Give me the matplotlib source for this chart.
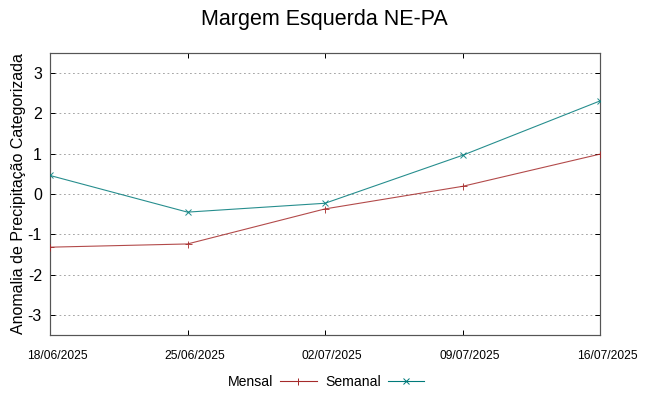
import matplotlib
matplotlib.use("Agg")
import matplotlib.pyplot as plt
import matplotlib.transforms as mtransforms
from matplotlib.lines import Line2D

plt.rcParams['font.family'] = ['Liberation Sans', 'DejaVu Sans']

dates = ["18/06/2025", "25/06/2025", "02/07/2025", "09/07/2025", "16/07/2025"]
mensal = [-1.32, -1.24, -0.37, 0.19, 0.99]
semanal = [0.46, -0.45, -0.23, 0.96, 2.31]
yticks = [-3, -2, -1, 0, 1, 2, 3]

fig = plt.figure(figsize=(9, 5.5), dpi=72)
ax = fig.add_axes([50/648, 1-335/396, 550/648, 282/396])

x = list(range(len(dates)))
c_m = '#a52a2a'
c_s = '#007a7a'
ax.plot(x, mensal, color=c_m, lw=1.1, marker='+', ms=7, mew=1, alpha=0.85, zorder=3)
ax.plot(x, semanal, color=c_s, lw=1.1, marker='x', ms=6, mew=1, alpha=0.85, zorder=3)

ax.set_xlim(0, len(dates)-1)
ax.set_ylim(-3.5, 3.5)
ax.set_xticks(x)
ax.set_xticklabels(dates, fontsize=12)
ax.set_yticks(yticks)
ax.set_yticklabels([str(v) for v in yticks], fontsize=16)
ax.tick_params(direction='in', length=5, width=1, top=True, right=True, colors='black')
ax.tick_params(axis='x', pad=15)
ax.tick_params(axis='y', pad=8)
ax.yaxis.grid(True, linestyle=(0, (2, 3)), color='#a0a0a0', lw=0.9)
for s in ax.spines.values():
    s.set_color('#555555')
    s.set_linewidth(1.2)

offset = mtransforms.ScaledTranslation(7/72, 0, fig.dpi_scale_trans)
for lab in ax.get_xticklabels():
    lab.set_transform(lab.get_transform() + offset)

ax.set_ylabel('Anomalia de Precipitação Categorizada', fontsize=16, labelpad=2)
fig.text(324/648, 1-20/396, 'Margem Esquerda NE-PA', ha='center', va='center', fontsize=21.5)

handles = [Line2D([], [], color=c_m, marker='+', lw=1.1, ms=7),
           Line2D([], [], color=c_s, marker='x', lw=1.1, ms=6)]
leg = fig.legend(handles, ['Mensal', 'Semanal'], loc='center', bbox_to_anchor=(326/648, 1-382/396),
                 ncol=2, frameon=False, fontsize=14, markerfirst=False, handlelength=2.6,
                 columnspacing=0.6, handletextpad=0.5)

fig.savefig('out.png', dpi=72)
